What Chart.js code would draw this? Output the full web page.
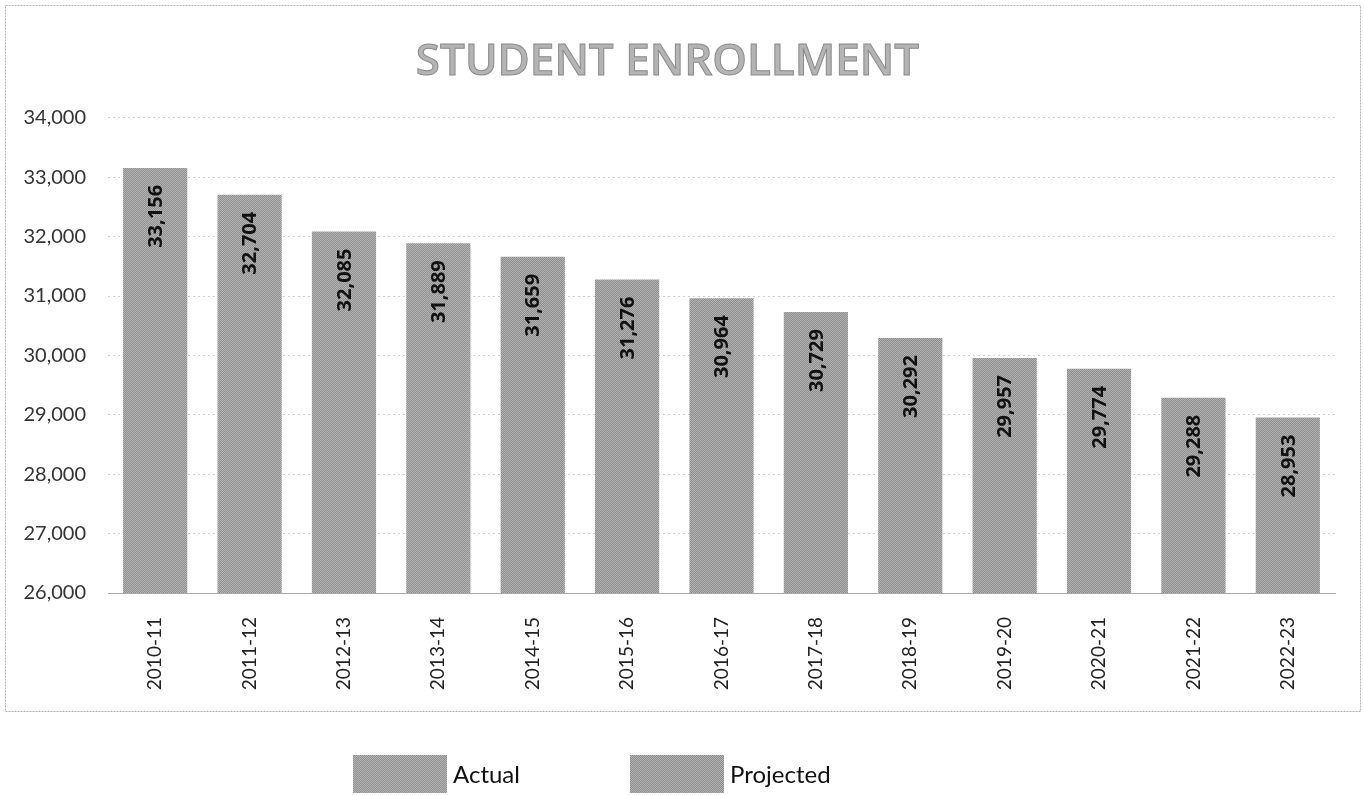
<!DOCTYPE html>
<html>
<head>
<meta charset="utf-8">
<script src="https://cdn.jsdelivr.net/npm/chart.js@4.4.1/dist/chart.umd.min.js"></script>
<style>
  html, body { margin: 0; padding: 0; background: #fff; }
  #wrap { width: 1364px; height: 795px; }
</style>
</head>
<body>
<div id="wrap"><canvas id="chartBar" width="1364" height="795"></canvas></div>
<script>
// school years on the x axis
const anos = ['2010-11', '2011-12', '2012-13', '2013-14', '2014-15', '2015-16', '2016-17',
  '2017-18', '2018-19', '2019-20', '2020-21', '2021-22', '2022-23'];
// enrollment (actual first years, projected after)
const atual = [33156, 32704, 32085, 31889, null, null, null, null, null, null, null, null, null];
const projetado = [null, null, null, null, 31659, 31276, 30964, 30729, 30292, 29957, 29774, 29288, 28953];
const serieNomes = ['Actual', 'Projected'];
const yMin = 26000;
const yMax = 34000;
const yPasso = 1000;

const fonte = 'Lato, "Open Sans", sans-serif';
const fonteNegrito = '"Open Sans", Lato, sans-serif';

// grey dither pattern like the scanned bars
function padraoCinza(c1, c2) {
    const p = document.createElement('canvas');
    p.width = 2; p.height = 2;
    const g = p.getContext('2d');
    g.fillStyle = c1; g.fillRect(0, 0, 2, 2);
    g.fillStyle = c2; g.fillRect(0, 0, 1, 1); g.fillRect(1, 1, 1, 1);
    return g.createPattern(p, 'repeat');
}
const corAtual = padraoCinza('#8e8e8e', '#b6b6b6');
const corProj = padraoCinza('#8c8c8c', '#b4b4b4');

// border box round the plot (legend sits outside it)
const moldura = {
    id: 'moldura',
    beforeDraw(chart) {
        const c = chart.ctx;
        c.save();
        c.fillStyle = '#fff';
        c.fillRect(0, 0, chart.width, chart.height);
        c.strokeStyle = '#b0b0b0';
        c.lineWidth = 1;
        c.setLineDash([2, 1]);
        c.strokeRect(5.5, 5.5, 1355, 706);
        c.restore();
    }
};

// value labels, rotated, near the top of each bar
const rotulos = {
    id: 'rotulos',
    afterDatasetsDraw(chart) {
        const c = chart.ctx;
        c.save();
        c.fillStyle = '#111';
        c.font = 'bold 20px ' + fonteNegrito;
        chart.data.datasets.forEach(function (ds, i) {
            chart.getDatasetMeta(i).data.forEach(function (bar, j) {
                const v = ds.data[j];
                if (v === null) return;
                c.save();
                c.translate(bar.x, bar.y + 17);
                c.rotate(-Math.PI / 2);
                c.textAlign = 'right';
                c.textBaseline = 'middle';
                c.fillText(v.toLocaleString('en-US'), 0, 1);
                c.restore();
            });
        });
        c.restore();
    }
};

// legend below the frame
const legenda = {
    id: 'legenda',
    afterDraw(chart) {
        const c = chart.ctx;
        const xs = [353, 630];
        c.save();
        c.font = '24px ' + fonte;
        c.textBaseline = 'middle';
        chart.data.datasets.forEach(function (ds, i) {
            c.fillStyle = ds.backgroundColor;
            c.fillRect(xs[i], 755, 94, 38);
            c.fillStyle = '#111';
            c.fillText(ds.label, xs[i] + 100, 775);
        });
        c.restore();
    }
};

// outline on the title letters
const tituloContorno = {
    id: 'tituloContorno',
    afterDraw(chart) {
        const t = chart.titleBlock;
        if (!t) return;
        const c = chart.ctx;
        c.save();
        c.font = '600 44px ' + fonteNegrito;
        c.textAlign = 'center';
        c.textBaseline = 'middle';
        c.strokeStyle = '#8a8a8a';
        c.lineWidth = 1;
        c.strokeText(t.options.text, (t.left + t.right) / 2, t.top + t.options.padding.top + 26.4);
        c.restore();
    }
};

const dadosBarra = {
    labels: anos,
    datasets: [{
        label: serieNomes[0],
        data: atual,
        backgroundColor: corAtual,
        borderWidth: 0
    }, {
        label: serieNomes[1],
        data: projetado,
        backgroundColor: corProj,
        borderWidth: 0
    }]
};

const myBarChart = new Chart(document.getElementById('chartBar'), {
    type: 'bar',
    data: dadosBarra,
    plugins: [moldura, rotulos, legenda, tituloContorno],
    options: {
        responsive: false,
        animation: false,
        categoryPercentage: 1,
        barPercentage: 0.68,
        layout: { padding: { left: 0, right: 29, top: 0, bottom: 83 } },
        scales: {
            x: {
                stacked: true,
                grid: { display: false, drawTicks: false },
                border: { display: true, color: '#a8a8a8', width: 1 },
                ticks: {
                    color: '#222',
                    font: { family: fonte, size: 19 },
                    minRotation: 90,
                    maxRotation: 90,
                    padding: 24
                },
                afterFit(scale) { scale.height = 119; }
            },
            y: {
                min: yMin,
                max: yMax,
                grid: { color: '#cfcfcf', drawTicks: false },
                border: { display: false, dash: [2, 3] },
                ticks: {
                    stepSize: yPasso,
                    color: '#333',
                    font: { family: fonte, size: 20 },
                    padding: 22,
                    callback: function (v) { return v.toLocaleString('en-US'); }
                },
                afterFit(scale) { scale.width = 108; }
            }
        },
        plugins: {
            legend: { display: false },
            tooltip: { enabled: false },
            title: {
                display: true,
                text: 'STUDENT ENROLLMENT',
                color: '#b4b4b4',
                font: { family: fonteNegrito, size: 44, weight: '600', lineHeight: 1.2 },
                padding: { top: 36, bottom: 29 }
            }
        }
    }
});
</script>
</body>
</html>
